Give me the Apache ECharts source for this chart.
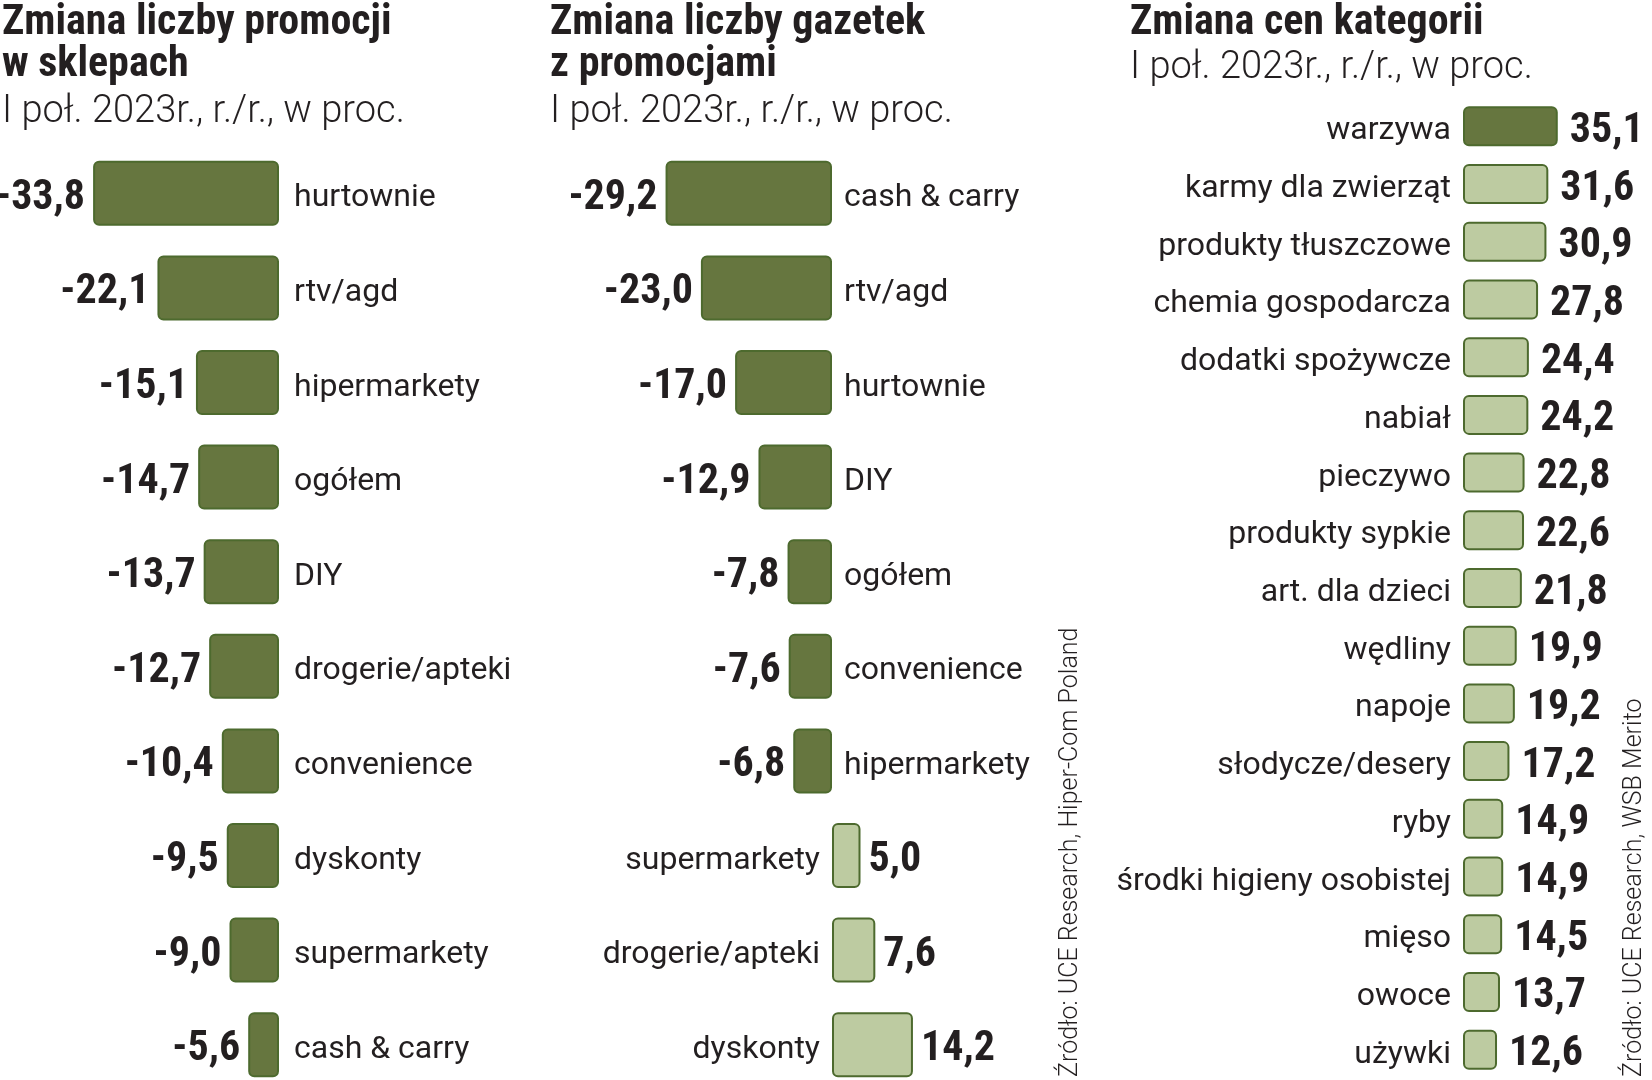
<!DOCTYPE html>
<html>
<head>
<meta charset="utf-8">
<script src="https://cdn.jsdelivr.net/npm/echarts@6/dist/echarts.min.js"></script>
<style>
  html, body { margin: 0; padding: 0; background: #fff; }
  #chart { width: 1652px; height: 1080px; }
</style>
</head>
<body>
<div id="chart"></div>
<script>
// zmiana liczby promocji w sklepach
var shopCats = ['hurtownie', 'rtv/agd', 'hipermarkety', 'ogółem', 'DIY', 'drogerie/apteki', 'convenience', 'dyskonty', 'supermarkety', 'cash & carry'];
var shopVals = [-33.8, -22.1, -15.1, -14.7, -13.7, -12.7, -10.4, -9.5, -9.0, -5.6];

// zmiana liczby gazetek z promocjami
var leafletCats = ['cash & carry', 'rtv/agd', 'hurtownie', 'DIY', 'ogółem', 'convenience', 'hipermarkety', 'supermarkety', 'drogerie/apteki', 'dyskonty'];
var leafletVals = [-29.2, -23.0, -17.0, -12.9, -7.8, -7.6, -6.8, 5.0, 7.6, 14.2];

// zmiana cen kategorii
var priceCats = ['warzywa', 'karmy dla zwierząt', 'produkty tłuszczowe', 'chemia gospodarcza', 'dodatki spożywcze', 'nabiał', 'pieczywo', 'produkty sypkie', 'art. dla dzieci', 'wędliny', 'napoje', 'słodycze/desery', 'ryby', 'środki higieny osobistej', 'mięso', 'owoce', 'używki'];
var priceVals = [35.1, 31.6, 30.9, 27.8, 24.4, 24.2, 22.8, 22.6, 21.8, 19.9, 19.2, 17.2, 14.9, 14.9, 14.5, 13.7, 12.6];

var titles = [
  { x: 2, lines: ['Zmiana liczby promocji', 'w sklepach'] },
  { x: 550, lines: ['Zmiana liczby gazetek', 'z promocjami'] },
  { x: 1130, lines: ['Zmiana cen kategorii'] }
];
var subtitle = 'I poł. 2023r., r./r., w proc.';
var sources = ['Źródło: UCE Research, Hiper-Com Poland', 'Źródło: UCE Research, WSB Merito'];

var DARK = '#66763f';
var LIGHT = '#bdcba1';
var EDGE = '#4d6a2e';
var INK = '#231f20';
var NARROW = '"Noto Sans Condensed", "Roboto Condensed", "Liberation Sans Narrow", "DejaVu Sans Condensed", Roboto, sans-serif';
var PLAIN = 'Roboto, "Noto Sans", sans-serif';

function fmt(v) {
  return v.toFixed(1).replace('.', ',');
}

var chart = echarts.init(document.getElementById('chart'));

// naglowki i zrodla
var graphic = [];
titles.forEach(function (t) {
  t.lines.forEach(function (line, i) {
    graphic.push({
      type: 'text', x: t.x, y: 23 + i * 42,
      style: { text: line, fill: INK, font: 'bold 42px ' + NARROW, verticalAlign: 'middle' }
    });
  });
  graphic.push({
    type: 'text', x: t.x, y: 25 + t.lines.length * 43.5,
    style: { text: subtitle, fill: INK, font: '300 38px ' + PLAIN, verticalAlign: 'middle' }
  });
});
[[1071, 1077], [1635, 1077]].forEach(function (p, i) {
  graphic.push({
    type: 'text', x: p[0], y: p[1], rotation: Math.PI / 2,
    style: { text: sources[i], fill: INK, font: '300 25px ' + PLAIN, verticalAlign: 'middle', align: 'left' }
  });
});

var barStyle = { color: DARK, borderColor: EDGE, borderWidth: 2, borderRadius: 5 };
var ghostStyle = { color: 'rgba(0,0,0,0)', borderWidth: 0 };
var valueLabel = {
  show: true, color: INK, fontFamily: NARROW, fontWeight: 'bold', fontSize: 42,
  offset: [0, 5],
  formatter: function (p) { return fmt(p.value); }
};
var catLabel = { show: true, color: INK, fontFamily: PLAIN, fontSize: 32, offset: [0, 5] };

// niewidoczne slupki niosace nazwy kategorii po drugiej stronie zera
function ghost(axis, vals, cats, width, dist) {
  return {
    type: 'bar', xAxisIndex: axis, yAxisIndex: axis, barWidth: width, barGap: '-100%', silent: true,
    data: vals.map(function (v, i) {
      return { value: v, label: { position: v < 0 ? 'right' : 'left', formatter: cats[i] } };
    }),
    itemStyle: ghostStyle,
    label: Object.assign({ distance: dist }, catLabel)
  };
}

var option = {
  backgroundColor: '#fff',
  animation: false,
  graphic: graphic,
  grid: [
    { left: 86.5, width: 192.5, top: 146, height: 946, outerBoundsMode: 'none', containLabel: false },
    { left: 661, width: 256.5, top: 146, height: 946, outerBoundsMode: 'none', containLabel: false },
    { left: 1463, width: 108, top: 97.5, height: 981, outerBoundsMode: 'none', containLabel: false }
  ],
  xAxis: [
    { gridIndex: 0, type: 'value', min: -35, max: 0, show: false },
    { gridIndex: 1, type: 'value', min: -30, max: 15, show: false },
    { gridIndex: 2, type: 'value', min: 0, max: 40, show: false }
  ],
  yAxis: [
    { gridIndex: 0, type: 'category', data: shopCats, inverse: true, show: false },
    { gridIndex: 1, type: 'category', data: leafletCats, inverse: true, show: false },
    { gridIndex: 2, type: 'category', data: priceCats, inverse: true, show: false }
  ],
  series: [
    {
      type: 'bar', xAxisIndex: 0, yAxisIndex: 0, barWidth: 65,
      data: shopVals, itemStyle: barStyle,
      label: Object.assign({ position: 'left', distance: 8 }, valueLabel)
    },
    ghost(0, shopVals, shopCats, 65, 15),
    {
      type: 'bar', xAxisIndex: 1, yAxisIndex: 1, barWidth: 65, barGap: '-100%',
      data: leafletVals.map(function (v) {
        return {
          value: v,
          itemStyle: { color: v < 0 ? DARK : LIGHT },
          label: { position: v < 0 ? 'left' : 'right' }
        };
      }),
      itemStyle: barStyle,
      label: Object.assign({ distance: 8 }, valueLabel)
    },
    ghost(1, leafletVals, leafletCats, 65, 12),
    {
      type: 'bar', xAxisIndex: 2, yAxisIndex: 2, barWidth: 40, barGap: '-100%',
      data: priceVals.map(function (v, i) {
        return { value: v, itemStyle: { color: i === 0 ? DARK : LIGHT } };
      }),
      itemStyle: barStyle,
      label: Object.assign({ position: 'right', distance: 12 }, valueLabel)
    },
    ghost(2, priceVals, priceCats, 40, 12)
  ]
};

chart.setOption(option);
</script>
</body>
</html>
